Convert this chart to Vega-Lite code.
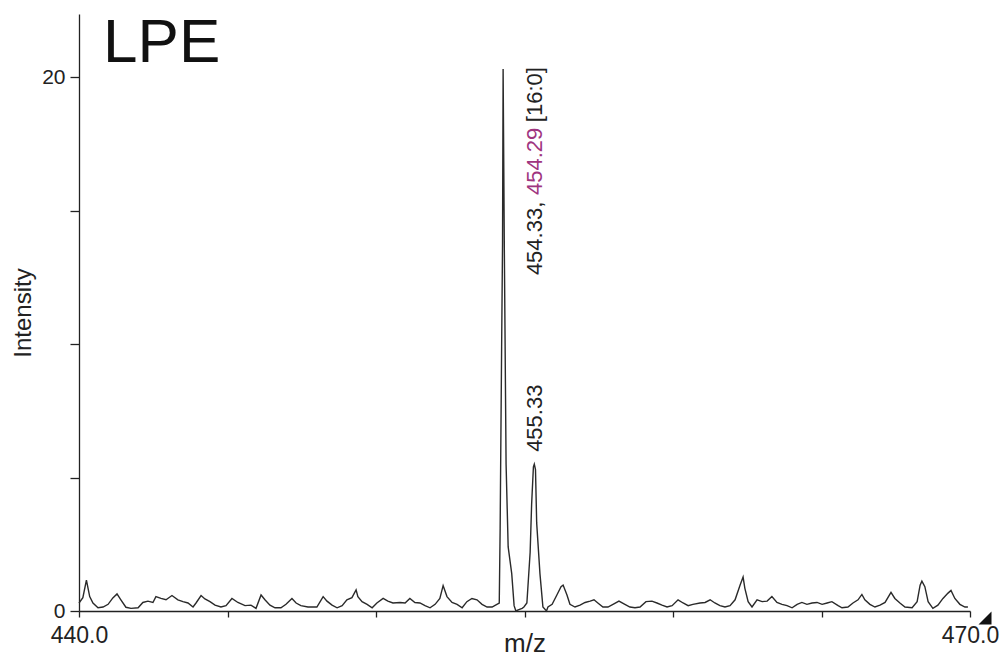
{
  "$schema": "https://vega.github.io/schema/vega-lite/v6.json",
  "width": 891,
  "height": 597,
  "autosize": {"type": "none"},
  "padding": {"left": 79, "top": 14, "right": 33, "bottom": 45},
  "background": "white",
  "config": {
    "view": {"stroke": null},
    "font": "Liberation Sans",
    "axis": {"grid": false, "domainColor": "#222", "tickColor": "#222", "labelColor": "#222", "titleColor": "#222", "labelFont": "Liberation Sans", "titleFont": "Liberation Sans", "titleFontWeight": "normal", "domainWidth": 1.3, "tickWidth": 1.3}
  },
  "datasets": {
    "spectrum": [
      {"mz": 440.00, "intensity": 0.30}, {"mz": 440.13, "intensity": 0.50}, {"mz": 440.25, "intensity": 1.16}, {"mz": 440.36, "intensity": 0.54},
      {"mz": 440.47, "intensity": 0.30}, {"mz": 440.64, "intensity": 0.12}, {"mz": 440.81, "intensity": 0.15}, {"mz": 440.98, "intensity": 0.25},
      {"mz": 441.14, "intensity": 0.49}, {"mz": 441.28, "intensity": 0.64}, {"mz": 441.41, "intensity": 0.42}, {"mz": 441.58, "intensity": 0.14},
      {"mz": 441.75, "intensity": 0.10}, {"mz": 441.99, "intensity": 0.12}, {"mz": 442.15, "intensity": 0.32}, {"mz": 442.32, "intensity": 0.37},
      {"mz": 442.49, "intensity": 0.32}, {"mz": 442.59, "intensity": 0.54}, {"mz": 442.76, "intensity": 0.47}, {"mz": 442.93, "intensity": 0.42},
      {"mz": 443.13, "intensity": 0.58}, {"mz": 443.33, "intensity": 0.42}, {"mz": 443.50, "intensity": 0.35}, {"mz": 443.67, "intensity": 0.30},
      {"mz": 443.84, "intensity": 0.15}, {"mz": 443.94, "intensity": 0.30}, {"mz": 444.11, "intensity": 0.58}, {"mz": 444.24, "intensity": 0.45},
      {"mz": 444.41, "intensity": 0.35}, {"mz": 444.58, "intensity": 0.22}, {"mz": 444.78, "intensity": 0.15}, {"mz": 444.95, "intensity": 0.20},
      {"mz": 445.15, "intensity": 0.47}, {"mz": 445.35, "intensity": 0.32}, {"mz": 445.59, "intensity": 0.20}, {"mz": 445.79, "intensity": 0.22},
      {"mz": 445.96, "intensity": 0.10}, {"mz": 446.13, "intensity": 0.60}, {"mz": 446.26, "intensity": 0.42}, {"mz": 446.43, "intensity": 0.22},
      {"mz": 446.60, "intensity": 0.12}, {"mz": 446.80, "intensity": 0.12}, {"mz": 446.97, "intensity": 0.25}, {"mz": 447.17, "intensity": 0.47},
      {"mz": 447.31, "intensity": 0.30}, {"mz": 447.47, "intensity": 0.20}, {"mz": 447.71, "intensity": 0.15}, {"mz": 448.01, "intensity": 0.15},
      {"mz": 448.22, "intensity": 0.54}, {"mz": 448.35, "intensity": 0.37}, {"mz": 448.52, "intensity": 0.22}, {"mz": 448.69, "intensity": 0.12},
      {"mz": 448.86, "intensity": 0.20}, {"mz": 449.02, "intensity": 0.42}, {"mz": 449.19, "intensity": 0.50}, {"mz": 449.33, "intensity": 0.79},
      {"mz": 449.39, "intensity": 0.54}, {"mz": 449.53, "intensity": 0.35}, {"mz": 449.70, "intensity": 0.25}, {"mz": 449.87, "intensity": 0.12},
      {"mz": 450.03, "intensity": 0.30}, {"mz": 450.24, "intensity": 0.47}, {"mz": 450.40, "intensity": 0.37}, {"mz": 450.57, "intensity": 0.30},
      {"mz": 450.81, "intensity": 0.32}, {"mz": 450.98, "intensity": 0.30}, {"mz": 451.14, "intensity": 0.47}, {"mz": 451.31, "intensity": 0.32},
      {"mz": 451.48, "intensity": 0.30}, {"mz": 451.65, "intensity": 0.20}, {"mz": 451.82, "intensity": 0.12}, {"mz": 451.99, "intensity": 0.25},
      {"mz": 452.15, "intensity": 0.47}, {"mz": 452.26, "intensity": 0.95}, {"mz": 452.39, "intensity": 0.54}, {"mz": 452.56, "intensity": 0.32},
      {"mz": 452.73, "intensity": 0.25}, {"mz": 452.90, "intensity": 0.12}, {"mz": 453.06, "intensity": 0.35}, {"mz": 453.23, "intensity": 0.47},
      {"mz": 453.40, "intensity": 0.42}, {"mz": 453.57, "intensity": 0.25}, {"mz": 453.74, "intensity": 0.15}, {"mz": 453.91, "intensity": 0.15},
      {"mz": 454.07, "intensity": 0.25}, {"mz": 454.15, "intensity": 0.30}, {"mz": 454.18, "intensity": 3.10}, {"mz": 454.23, "intensity": 9.90},
      {"mz": 454.26, "intensity": 13.70}, {"mz": 454.28, "intensity": 20.30}, {"mz": 454.32, "intensity": 13.70}, {"mz": 454.38, "intensity": 5.50},
      {"mz": 454.45, "intensity": 2.40}, {"mz": 454.57, "intensity": 1.40}, {"mz": 454.65, "intensity": 0.20}, {"mz": 454.71, "intensity": 0.00},
      {"mz": 454.81, "intensity": 0.05}, {"mz": 454.92, "intensity": 0.10}, {"mz": 454.98, "intensity": 0.15}, {"mz": 455.08, "intensity": 0.30},
      {"mz": 455.19, "intensity": 2.20}, {"mz": 455.24, "intensity": 4.00}, {"mz": 455.30, "intensity": 5.40}, {"mz": 455.33, "intensity": 5.50},
      {"mz": 455.37, "intensity": 5.30}, {"mz": 455.41, "intensity": 3.30}, {"mz": 455.52, "intensity": 1.40}, {"mz": 455.62, "intensity": 0.15},
      {"mz": 455.74, "intensity": 0.00}, {"mz": 455.79, "intensity": 0.15}, {"mz": 455.93, "intensity": 0.25}, {"mz": 456.09, "intensity": 0.60},
      {"mz": 456.23, "intensity": 0.91}, {"mz": 456.30, "intensity": 0.97}, {"mz": 456.43, "intensity": 0.60}, {"mz": 456.53, "intensity": 0.25},
      {"mz": 456.70, "intensity": 0.15}, {"mz": 456.87, "intensity": 0.22}, {"mz": 457.04, "intensity": 0.32}, {"mz": 457.21, "intensity": 0.37},
      {"mz": 457.34, "intensity": 0.42}, {"mz": 457.47, "intensity": 0.30}, {"mz": 457.64, "intensity": 0.15}, {"mz": 457.81, "intensity": 0.15},
      {"mz": 457.98, "intensity": 0.25}, {"mz": 458.18, "intensity": 0.37}, {"mz": 458.38, "intensity": 0.25}, {"mz": 458.55, "intensity": 0.15},
      {"mz": 458.72, "intensity": 0.12}, {"mz": 458.89, "intensity": 0.15}, {"mz": 459.09, "intensity": 0.35}, {"mz": 459.29, "intensity": 0.37},
      {"mz": 459.46, "intensity": 0.30}, {"mz": 459.63, "intensity": 0.22}, {"mz": 459.80, "intensity": 0.15}, {"mz": 459.97, "intensity": 0.20},
      {"mz": 460.17, "intensity": 0.42}, {"mz": 460.34, "intensity": 0.30}, {"mz": 460.51, "intensity": 0.20}, {"mz": 460.67, "intensity": 0.25},
      {"mz": 460.91, "intensity": 0.30}, {"mz": 461.08, "intensity": 0.32}, {"mz": 461.25, "intensity": 0.42}, {"mz": 461.41, "intensity": 0.30},
      {"mz": 461.58, "intensity": 0.20}, {"mz": 461.75, "intensity": 0.15}, {"mz": 461.92, "intensity": 0.20}, {"mz": 462.09, "intensity": 0.42},
      {"mz": 462.26, "intensity": 0.97}, {"mz": 462.36, "intensity": 1.27}, {"mz": 462.42, "intensity": 0.85}, {"mz": 462.53, "intensity": 0.35},
      {"mz": 462.66, "intensity": 0.15}, {"mz": 462.83, "intensity": 0.42}, {"mz": 463.00, "intensity": 0.35}, {"mz": 463.17, "intensity": 0.37},
      {"mz": 463.33, "intensity": 0.54}, {"mz": 463.50, "intensity": 0.32}, {"mz": 463.67, "intensity": 0.25}, {"mz": 463.84, "intensity": 0.20},
      {"mz": 464.01, "intensity": 0.12}, {"mz": 464.18, "intensity": 0.25}, {"mz": 464.34, "intensity": 0.32}, {"mz": 464.51, "intensity": 0.25},
      {"mz": 464.68, "intensity": 0.30}, {"mz": 464.85, "intensity": 0.32}, {"mz": 465.02, "intensity": 0.25}, {"mz": 465.19, "intensity": 0.30},
      {"mz": 465.35, "intensity": 0.35}, {"mz": 465.56, "intensity": 0.20}, {"mz": 465.69, "intensity": 0.12}, {"mz": 465.89, "intensity": 0.15},
      {"mz": 466.06, "intensity": 0.30}, {"mz": 466.23, "intensity": 0.42}, {"mz": 466.36, "intensity": 0.62}, {"mz": 466.46, "intensity": 0.42},
      {"mz": 466.63, "intensity": 0.25}, {"mz": 466.80, "intensity": 0.15}, {"mz": 466.97, "intensity": 0.22}, {"mz": 467.14, "intensity": 0.32},
      {"mz": 467.34, "intensity": 0.70}, {"mz": 467.47, "intensity": 0.47}, {"mz": 467.64, "intensity": 0.30}, {"mz": 467.81, "intensity": 0.15},
      {"mz": 468.05, "intensity": 0.12}, {"mz": 468.22, "intensity": 0.35}, {"mz": 468.32, "intensity": 0.97}, {"mz": 468.38, "intensity": 1.12},
      {"mz": 468.48, "intensity": 0.91}, {"mz": 468.59, "intensity": 0.35}, {"mz": 468.75, "intensity": 0.10}, {"mz": 468.92, "intensity": 0.22},
      {"mz": 469.09, "intensity": 0.47}, {"mz": 469.26, "intensity": 0.67}, {"mz": 469.36, "intensity": 0.77}, {"mz": 469.49, "intensity": 0.47},
      {"mz": 469.66, "intensity": 0.25}, {"mz": 469.83, "intensity": 0.15}, {"mz": 469.93, "intensity": 0.15}
    ],
    "labels": [
      {"text": "LPE", "mz": 440.81, "intensity": 20.56, "part": "title"},
      {"text": "454.33,", "mz": 455.36, "intensity": 12.58, "part": "black"},
      {"text": "454.29", "mz": 455.36, "intensity": 15.58, "part": "purple"},
      {"text": "[16:0]", "mz": 455.36, "intensity": 18.31, "part": "black"},
      {"text": "455.33", "mz": 455.36, "intensity": 5.96, "part": "black"}
    ]
  },
  "layer": [
    {
      "data": {"name": "spectrum"},
      "mark": {"type": "line", "color": "#2a2a2a", "strokeWidth": 1.4, "interpolate": "linear"},
      "encoding": {
        "x": {
          "field": "mz", "type": "quantitative",
          "scale": {"domain": [440, 470], "nice": false, "zero": false},
          "axis": {
            "values": [440, 445, 450, 455, 460, 465, 470],
            "labelExpr": "datum.value == 440 || datum.value == 470 ? format(datum.value, '.1f') : ''",
            "labelFontSize": 23, "labelFlush": false, "tickSize": 6, "labelPadding": 7,
            "title": "m/z", "titleFontSize": 26, "titleBaseline": "alphabetic", "titleY": 40
          }
        },
        "y": {
          "field": "intensity", "type": "quantitative",
          "scale": {"domain": [0, 22.36], "nice": false},
          "axis": {
            "values": [0, 5, 10, 15, 20],
            "labelExpr": "datum.value == 0 || datum.value == 20 ? format(datum.value, 'd') : ''",
            "labelFontSize": 21, "labelFlush": false, "tickSize": 9, "labelPadding": 5,
            "title": "Intensity", "titleFontSize": 24, "titleBaseline": "alphabetic", "titleX": -49
          }
        }
      }
    },
    {
      "data": {"name": "labels"},
      "transform": [{"filter": "datum.part == 'title'"}],
      "mark": {"type": "text", "fontSize": 62, "font": "Liberation Sans", "align": "left", "baseline": "alphabetic", "color": "#111"},
      "encoding": {
        "x": {"field": "mz", "type": "quantitative"},
        "y": {"field": "intensity", "type": "quantitative"},
        "text": {"field": "text"}
      }
    },
    {
      "data": {"name": "labels"},
      "transform": [{"filter": "datum.part != 'title'"}],
      "mark": {"type": "text", "fontSize": 22, "font": "Liberation Sans", "angle": 270, "align": "left", "baseline": "middle"},
      "encoding": {
        "x": {"field": "mz", "type": "quantitative"},
        "y": {"field": "intensity", "type": "quantitative"},
        "text": {"field": "text"},
        "color": {"field": "part", "type": "nominal", "scale": {"domain": ["black", "purple"], "range": ["#222222", "#a0357f"]}, "legend": null}
      }
    },
    {
      "data": {"values": [{"mz": 470, "intensity": 0}]},
      "mark": {"type": "point", "shape": "M-1,1L1,1L1,-1Z", "size": 170, "filled": true, "color": "#111", "opacity": 1, "xOffset": 15, "yOffset": 7},
      "encoding": {
        "x": {"field": "mz", "type": "quantitative"},
        "y": {"field": "intensity", "type": "quantitative"}
      }
    }
  ]
}
